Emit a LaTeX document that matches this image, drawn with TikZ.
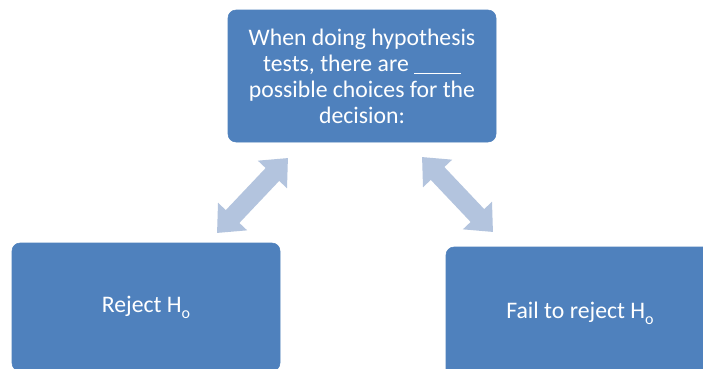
\documentclass[tikz,border=0pt]{standalone}
\usepackage{fontspec}
\setmainfont{Carlito}
\usetikzlibrary{arrows.meta}
\definecolor{boxblue}{HTML}{4F81BD}
\definecolor{arrowblue}{HTML}{B3C4DE}
\newcommand{\subo}{\raisebox{-4.5pt}{\fontsize{12}{12}\selectfont o}}
\tikzset{
  box/.style={fill=boxblue, draw=boxblue, line width=0.4pt, rounded corners=6pt,
    minimum width=201pt, text=white, align=center,
    font=\fontsize{17.8}{19.5}\selectfont, inner sep=0pt},
  dblarrow/.style={draw=arrowblue, line width=14pt,
    {Triangle[length=17pt,width=29pt]}-{Triangle[length=17pt,width=29pt]}}
}
\begin{document}
\begin{tikzpicture}[x=0.75pt,y=-0.75pt]
\useasboundingbox (0,0) rectangle (703,368);
\clip (0,0) rectangle (703,368);
\fill[white] (0,0) rectangle (703,368);
\node[box, minimum height=99pt] (top) at (362,76)
  {When doing hypothesis\\tests, there are \rule[-2pt]{35pt}{0.9pt}\\possible choices for the\\decision:};
\node[box, minimum height=96pt] (left) at (146,307) {Reject H\subo};
\node[box, minimum height=99pt] (right) at (580,313) {Fail to reject H\subo};
\coordinate (la) at (217,233);
\coordinate (lb) at (288,158);
\coordinate (ra) at (422,157);
\coordinate (rb) at (493,232);
\draw[dblarrow] (la) -- (lb);
\draw[dblarrow] (ra) -- (rb);
\end{tikzpicture}
\end{document}
